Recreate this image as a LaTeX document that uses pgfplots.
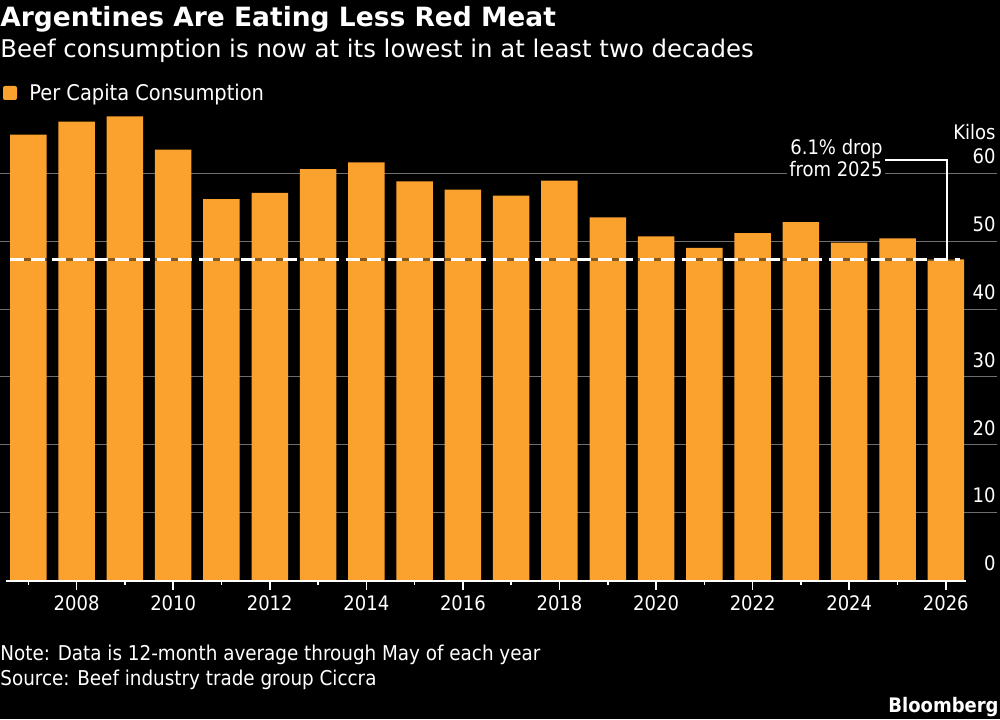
\documentclass[border=0pt]{standalone}
\usepackage{fontspec}
\setmainfont{DejaVu Sans Condensed}
\newfontfamily\widefont{DejaVu Sans}
\usepackage{pgfplots}
\pgfplotsset{compat=1.18}
\definecolor{barorange}{HTML}{FBA12D}
\definecolor{gridgray}{HTML}{6E6E6E}
\begin{document}
\begin{tikzpicture}
\fill[black] (0,0) rectangle (500pt,359.5pt);
\begin{axis}[
  at={(0pt,69.25pt)}, anchor=south west,
  scale only axis, width=498.5pt, height=237.55pt,
  xmin=2006.414, xmax=2027.06, ymin=0, ymax=70,
  clip=false,
  axis line style={draw=none},
  xtick={2008,2010,...,2026},
  minor xtick={2007,2009,...,2025},
  xtick pos=left, tick align=outside,
  major tick length=4.5pt, minor tick length=2pt,
  xtick style={white, line width=0.75pt},
  minor x tick style={white, line width=0.75pt},
  xticklabel style={white, font=\fontsize{10}{12}\selectfont, inner sep=0pt, anchor=north, yshift=-3pt},
  x tick label style={/pgf/number format/1000 sep={}},
  ytick={10,20,...,60},
  extra y ticks={0}, extra y tick style={grid=none},
  ymajorgrids, grid style={gridgray, line width=0.5pt},
  ytick pos=right, yticklabel pos=right,
  ytick style={draw=none},
  yticklabel style={white, font=\fontsize{10}{12}\selectfont, inner sep=0pt, text width=12pt, align=right, anchor=south east, xshift=-5pt, yshift=4.5pt},
  /pgf/number format/assume math mode=true,
]
\addplot[ybar, bar width=18.25pt, fill=barorange, draw=none, bar shift=0pt] coordinates {
(2007,65.7) (2008,67.6) (2009,68.4) (2010,63.5) (2011,56.2) (2012,57.1) (2013,60.6) (2014,61.6)
(2015,58.8) (2016,57.6) (2017,56.7) (2018,58.9) (2019,53.5) (2020,50.7) (2021,49.0) (2022,51.2)
(2023,52.8) (2024,49.8) (2025,50.4) (2026,47.3)};
\addplot[black, opacity=0.45, line width=1.6pt] coordinates {(2006.62,47.3) (2026.3,47.3)};
\addplot[white, line width=1.6pt, dash pattern=on 7pt off 3.5pt] coordinates {(2006.62,47.3) (2026.3,47.3)};
\draw[white, line width=1pt] (axis cs:2006.54,0) -- (axis cs:2026.42,0);
\end{axis}
\node[anchor=base east, inner sep=1pt, fill=black, text=white, font=\fontsize{10}{12}\selectfont] at (442.5pt,282pt) {6.1\% drop};
\node[anchor=base east, inner sep=1pt, fill=black, text=white, font=\fontsize{10}{12}\selectfont] at (442.5pt,271.5pt) {from 2025};
\draw[white, line width=0.75pt] (442.5pt,279.5pt) -- (473.5pt,279.5pt) -- (473.5pt,230pt);
\node[anchor=base east, inner sep=0pt, text=white, font=\fontsize{10}{12}\selectfont] at (498pt,289.5pt) {Kilos};
\node[anchor=base west, inner sep=0pt, text=white, font=\fontsize{13.25}{15}\widefont\bfseries] at (0pt,346.15pt) {Argentines Are Eating Less Red Meat};
\node[anchor=base west, inner sep=0pt, text=white, font=\fontsize{12.2}{14}\widefont] at (0pt,330.85pt) {Beef consumption is now at its lowest in at least two decades};
\fill[barorange, rounded corners=1pt] (1.5pt,309.5pt) rectangle (8.5pt,316.5pt);
\node[anchor=base west, inner sep=0pt, text=white, font=\fontsize{10.8}{12}\selectfont] at (14.5pt,309pt) {Per Capita Consumption};
\node[anchor=base west, inner sep=0pt, text=white, font=\fontsize{10.2}{12}\selectfont] at (0pt,29.5pt) {Note: Data is 12-month average through May of each year};
\node[anchor=base west, inner sep=0pt, text=white, font=\fontsize{10.2}{12}\selectfont] at (0pt,17pt) {Source: Beef industry trade group Ciccra};
\node[anchor=base east, inner sep=0pt, text=white, font=\fontsize{10}{12}\selectfont\bfseries] at (499.5pt,3.5pt) {Bloomberg};
\pgfresetboundingbox
\path[use as bounding box] (0,0) rectangle (500pt,359.5pt);
\end{tikzpicture}
\end{document}
